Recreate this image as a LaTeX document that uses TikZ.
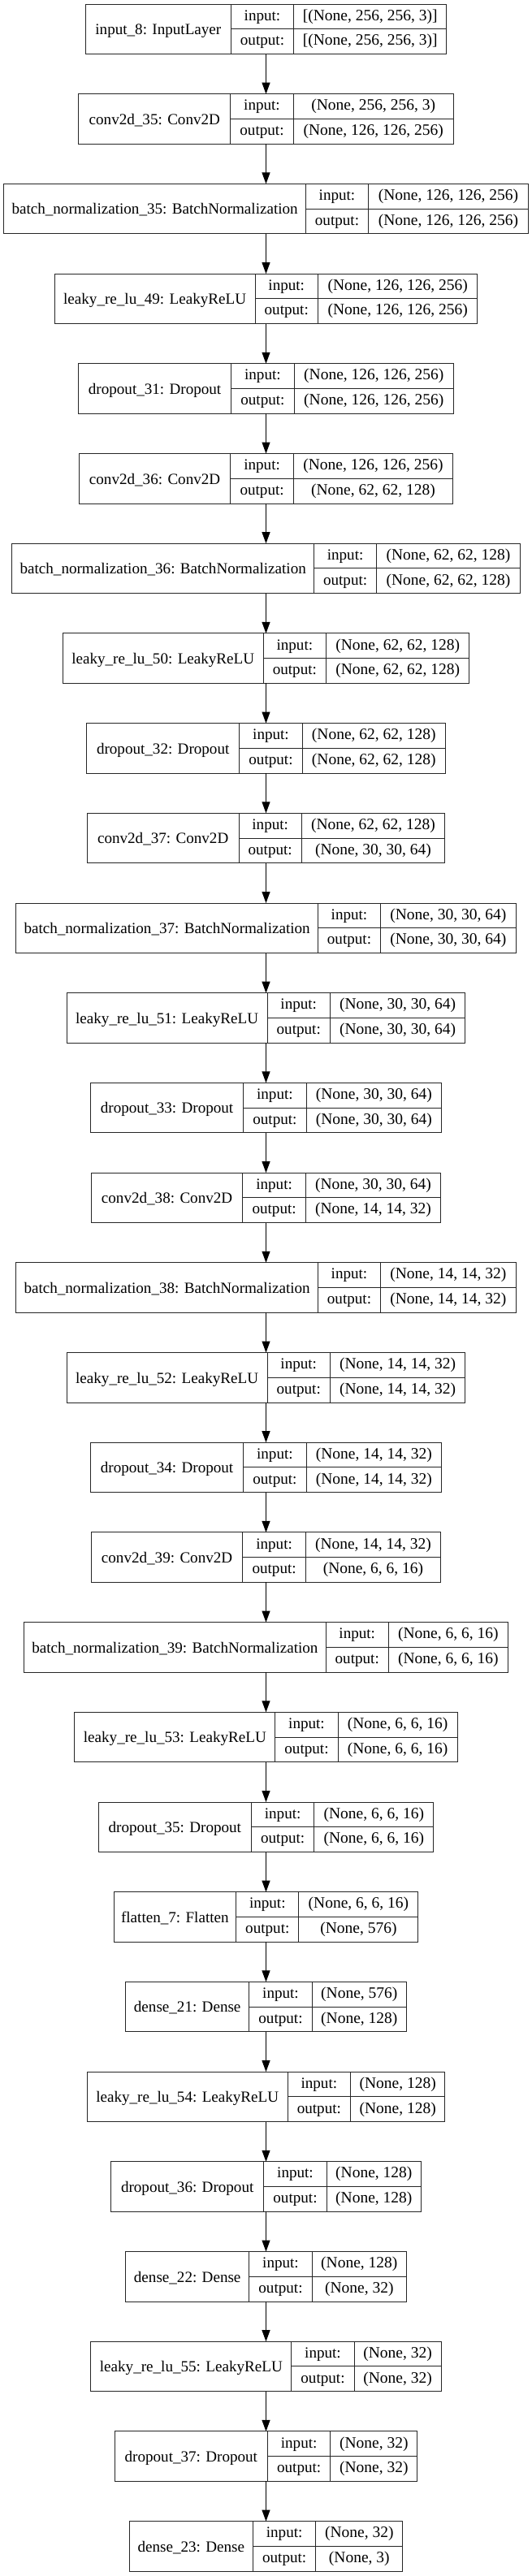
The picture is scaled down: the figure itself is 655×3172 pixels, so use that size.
\documentclass[tikz,border=0pt]{standalone}
\usepackage{fontspec}
\setmainfont{Liberation Serif}
\usetikzlibrary{arrows.meta}
\tikzset{
  boxall/.style={draw=black!85, line width=1pt, inner sep=0pt, outer sep=0pt, minimum height=61.5pt},
  labcell/.style={draw=black!85, line width=1pt, inner sep=0pt, outer sep=0pt, minimum height=61.5pt,
     font=\fontsize{19.1}{22}\selectfont, text height=13.5pt, text depth=0pt},
  kcell/.style={draw=black!85, line width=1pt, inner sep=0pt, outer sep=0pt, minimum height=30.75pt,
     minimum width=77.3pt, font=\fontsize{19.1}{22}\selectfont, text height=9.5pt, text depth=0pt},
  vcell/.style={draw=black!85, line width=1pt, inner sep=0pt, outer sep=0pt, minimum height=30.75pt,
     font=\fontsize{19.5}{22}\selectfont, text height=9.5pt, text depth=0pt},
  edge/.style={draw=black, line width=1pt, -{Triangle[length=14pt,width=10pt]}}
}
\newcommand{\layerbox}[7]{%
  \pgfmathsetmacro{\lbTop}{5+110.7*#2}%
  \pgfmathsetmacro{\lbW}{#3+77.3+#4}%
  \pgfmathsetmacro{\lbX}{327.5-\lbW/2}%
  \node[boxall, minimum width=\lbW pt, anchor=north west] (#1) at (\lbX pt,-\lbTop pt) {};
  \node[labcell, minimum width=#3 pt, anchor=north west] (#1-lab) at (#1.north west) {#5};
  \node[kcell, anchor=north west] (#1-ik) at (#1-lab.north east) {input:};
  \node[kcell, anchor=north west] (#1-ok) at (#1-ik.south west) {output:};
  \node[vcell, minimum width=#4 pt, anchor=north west] (#1-iv) at (#1-ik.north east) {#6};
  \node[vcell, minimum width=#4 pt, anchor=north west] (#1-ov) at (#1-ok.north east) {#7};
}
\begin{document}
\begin{tikzpicture}
\useasboundingbox[fill=white] (0pt,0pt) rectangle (655pt,-3172pt);
\layerbox{n0}{0}{179}{188}{input\_8: InputLayer}{[(None, 256, 256, 3)]}{[(None, 256, 256, 3)]}
\layerbox{n1}{1}{187}{197}{conv2d\_35: Conv2D}{(None, 256, 256, 3)}{(None, 126, 126, 256)}
\layerbox{n2}{2}{371.5}{196.5}{batch\_normalization\_35: BatchNormalization}{(None, 126, 126, 256)}{(None, 126, 126, 256)}
\layerbox{n3}{3}{247}{196.5}{leaky\_re\_lu\_49: LeakyReLU}{(None, 126, 126, 256)}{(None, 126, 126, 256)}
\layerbox{n4}{4}{188.3}{196.5}{dropout\_31: Dropout}{(None, 126, 126, 256)}{(None, 126, 126, 256)}
\layerbox{n5}{5}{186.7}{196.5}{conv2d\_36: Conv2D}{(None, 126, 126, 256)}{(None, 62, 62, 128)}
\layerbox{n6}{6}{371.5}{176.3}{batch\_normalization\_36: BatchNormalization}{(None, 62, 62, 128)}{(None, 62, 62, 128)}
\layerbox{n7}{7}{247}{176.3}{leaky\_re\_lu\_50: LeakyReLU}{(None, 62, 62, 128)}{(None, 62, 62, 128)}
\layerbox{n8}{8}{188.3}{176.3}{dropout\_32: Dropout}{(None, 62, 62, 128)}{(None, 62, 62, 128)}
\layerbox{n9}{9}{186.7}{176.3}{conv2d\_37: Conv2D}{(None, 62, 62, 128)}{(None, 30, 30, 64)}
\layerbox{n10}{10}{371.5}{166.5}{batch\_normalization\_37: BatchNormalization}{(None, 30, 30, 64)}{(None, 30, 30, 64)}
\layerbox{n11}{11}{247}{166.5}{leaky\_re\_lu\_51: LeakyReLU}{(None, 30, 30, 64)}{(None, 30, 30, 64)}
\layerbox{n12}{12}{188.3}{166.5}{dropout\_33: Dropout}{(None, 30, 30, 64)}{(None, 30, 30, 64)}
\layerbox{n13}{13}{186.7}{166.5}{conv2d\_38: Conv2D}{(None, 30, 30, 64)}{(None, 14, 14, 32)}
\layerbox{n14}{14}{371.5}{166.5}{batch\_normalization\_38: BatchNormalization}{(None, 14, 14, 32)}{(None, 14, 14, 32)}
\layerbox{n15}{15}{247}{166.5}{leaky\_re\_lu\_52: LeakyReLU}{(None, 14, 14, 32)}{(None, 14, 14, 32)}
\layerbox{n16}{16}{188.3}{166.5}{dropout\_34: Dropout}{(None, 14, 14, 32)}{(None, 14, 14, 32)}
\layerbox{n17}{17}{186.7}{166.5}{conv2d\_39: Conv2D}{(None, 14, 14, 32)}{(None, 6, 6, 16)}
\layerbox{n18}{18}{371.5}{147}{batch\_normalization\_39: BatchNormalization}{(None, 6, 6, 16)}{(None, 6, 6, 16)}
\layerbox{n19}{19}{247}{147}{leaky\_re\_lu\_53: LeakyReLU}{(None, 6, 6, 16)}{(None, 6, 6, 16)}
\layerbox{n20}{20}{188.3}{147}{dropout\_35: Dropout}{(None, 6, 6, 16)}{(None, 6, 6, 16)}
\layerbox{n21}{21}{150.6}{147}{flatten\_7: Flatten}{(None, 6, 6, 16)}{(None, 576)}
\layerbox{n22}{22}{152.3}{116.3}{dense\_21: Dense}{(None, 576)}{(None, 128)}
\layerbox{n23}{23}{247}{116.3}{leaky\_re\_lu\_54: LeakyReLU}{(None, 128)}{(None, 128)}
\layerbox{n24}{24}{188.3}{116.3}{dropout\_36: Dropout}{(None, 128)}{(None, 128)}
\layerbox{n25}{25}{152.3}{116.3}{dense\_22: Dense}{(None, 128)}{(None, 32)}
\layerbox{n26}{26}{247}{107}{leaky\_re\_lu\_55: LeakyReLU}{(None, 32)}{(None, 32)}
\layerbox{n27}{27}{188.3}{107}{dropout\_37: Dropout}{(None, 32)}{(None, 32)}
\layerbox{n28}{28}{152.3}{107}{dense\_23: Dense}{(None, 32)}{(None, 3)}
\foreach \a/\b in {0/1,1/2,2/3,3/4,4/5,5/6,6/7,7/8,8/9,9/10,10/11,11/12,12/13,13/14,14/15,15/16,16/17,17/18,18/19,19/20,20/21,21/22,22/23,23/24,24/25,25/26,26/27,27/28}
  \draw[edge] (n\a.south) -- (n\b.north);
\end{tikzpicture}
\end{document}
